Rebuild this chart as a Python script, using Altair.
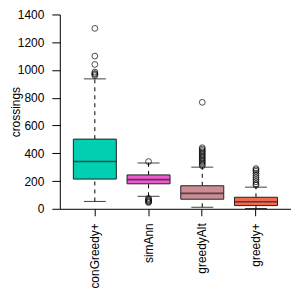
import altair as alt
import pandas as pd

cats = ["conGreedy+", "simAnn", "greedyAlt", "greedy+"]
colors = ["#00CFB1", "#EE5ACF", "#CD8C95", "#EE6A50"]
q1 = [214, 180, 69, 23]
med = [341, 210, 111, 51]
q3 = [502, 244, 166, 83]
lo = [53, 90, 11, 2]
hi = [936, 330, 300, 156]
outliers = {
    "conGreedy+": [1300, 1100, 1040, 985, 975, 968, 960],
    "simAnn": [340, 75, 68, 62, 56, 50, 45],
    "greedyAlt": [767, 440, 430, 420, 410, 400, 390, 380, 370, 360, 350, 340, 330, 320, 310],
    "greedy+": [290, 280, 270, 255, 240, 225, 210, 195, 180, 170],
}
yticks = [0, 200, 400, 600, 800, 1000, 1200, 1400]

box = pd.DataFrame({"cat": cats, "q1": q1, "med": med, "q3": q3, "lo": lo, "hi": hi})
out = pd.DataFrame([{"cat": c, "v": v} for c in cats for v in outliers[c]])

H = 195

xenc = alt.X("cat:N", sort=cats,
             scale=alt.Scale(paddingInner=0.2, paddingOuter=0.252),
             axis=alt.Axis(title=None, labelAngle=-90, tickSize=7, labelPadding=7,
                           labelOverlap=False))
yscale = alt.Scale(domain=[0, 1400], nice=False, zero=False)
yaxis = alt.Axis(title="crossings", values=yticks, format="d", labelOverlap=False,
                 labelFlush=False, tickSize=8, labelPadding=8, grid=False,
                 titleX=-37, titleY=H / 2, titleAngle=270, titleBaseline="bottom",
                 titleAlign="center")


def Y(field):
    return alt.Y(field, scale=yscale, axis=yaxis)


base = alt.Chart(box)

wlow = base.mark_rule(color="black", strokeWidth=1, strokeDash=[4, 4]).encode(
    x=xenc, y=Y("lo:Q"), y2="q1:Q")
whigh = base.mark_rule(color="black", strokeWidth=1, strokeDash=[4, 4]).encode(
    x=xenc, y=Y("q3:Q"), y2="hi:Q")
caplo = base.mark_tick(color="black", size=22, thickness=1, opacity=0.75).encode(
    x=xenc, y=Y("lo:Q"))
caphi = base.mark_tick(color="black", size=22, thickness=1, opacity=0.75).encode(
    x=xenc, y=Y("hi:Q"))
bars = base.mark_bar(stroke="#222222", strokeWidth=1).encode(
    x=xenc, y=Y("q1:Q"), y2="q3:Q",
    color=alt.Color("cat:N", scale=alt.Scale(domain=cats, range=colors), legend=None))
medians = base.mark_tick(color="#222222", size=43, thickness=1.6).encode(
    x=xenc, y=Y("med:Q"))
pts = alt.Chart(out).mark_point(shape="circle", filled=False, color="black",
                                size=34, strokeWidth=1).encode(
    x=xenc, y=Y("v:Q"))

chart = alt.layer(wlow, whigh, caplo, caphi, bars, medians, pts).properties(
    width=232, height=H,
    autosize=alt.AutoSizeParams(type="none"),
    padding={"left": 52, "top": 6, "right": 0, "bottom": 80},
).configure_view(stroke=None).configure_axis(
    domainColor="black", tickColor="black", labelColor="black", titleColor="black",
    labelFont="Liberation Sans", titleFont="Liberation Sans",
    labelFontSize=12, titleFontSize=12, titleFontWeight="normal",
    domainWidth=1, tickWidth=1,
)

chart.save("out.html", embed_options={"renderer": "svg", "actions": False})
